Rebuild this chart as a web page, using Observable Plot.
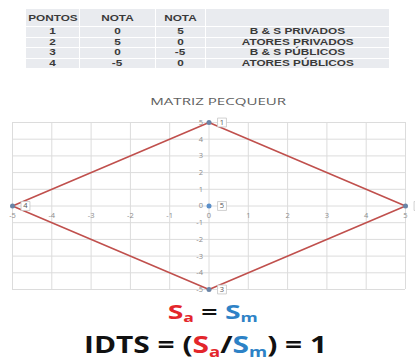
<!DOCTYPE html>
<html>
<head>
<meta charset="utf-8">
<script src="https://cdn.jsdelivr.net/npm/d3@7"></script>
<script src="https://cdn.jsdelivr.net/npm/@observablehq/plot@0.6"></script>
<style>
  html, body { margin: 0; padding: 0; background: #fff; }
  #wrap { position: relative; width: 415px; height: 361px; overflow: hidden; font-family: "Open Sans", Lato, sans-serif; }
  .cell { position: absolute; background: #e9ebef; color: #3a3a3a; font-family: "Liberation Sans", Arial, sans-serif; font-weight: 700; font-size: 9px; text-align: center; white-space: nowrap; }
  .cell span, .fit { display: inline-block; transform-origin: 50% 50%; }
  #title { position: absolute; left: 150px; width: 136px; top: 95px; height: 14px; line-height: 14px; text-align: center; font-size: 9.6px; color: #5f5f5f; white-space: nowrap; }
  #chart { position: absolute; left: 0; top: 88px; }
  .f { position: absolute; text-align: center; font-weight: 700; color: #111; white-space: nowrap; }
  .f sub { font-size: 0.62em; vertical-align: -0.28em; line-height: 0; }
  .red { color: #e3262b; }
  .blue { color: #2d82c6; }
</style>
</head>
<body>
<div id="wrap">
  <div id="tablebox"></div>
  <div id="title"><span class="fit" id="titletxt"></span></div>
  <div id="chart"></div>
  <div class="f" id="f1" style="left:168px;width:90px;top:300px;height:24px;line-height:24px;font-size:20px;"><span class="fit" id="f1t"></span></div>
  <div class="f" id="f2" style="left:84px;width:243px;top:330px;height:28px;line-height:28px;font-size:23px;"><span class="fit" id="f2t"></span></div>
</div>
<script>
// ---- data ----
const tableHeader = ["PONTOS", "NOTA", "NOTA", ""];
const pontos = [1, 2, 3, 4];
const notaX = [0, 5, 0, -5];
const notaY = [5, 0, -5, 0];
const descricao = ["B & S PRIVADOS", "ATORES PRIVADOS", "B & S PÚBLICOS", "ATORES PÚBLICOS"];
const chartTitle = "MATRIZ PECQUEUR";
const pointLabels = ["1", "2", "3", "4", "5"];
const pointX = [0, 5, 0, -5, 0];
const pointY = [5, 0, -5, 0, 0];
const polygonOrder = [0, 1, 2, 3, 0];
const xTicks = [-5, -4, -3, -2, -1, 0, 1, 2, 3, 4, 5];
const yTicks = [-5, -4, -3, -2, -1, 0, 1, 2, 3, 4, 5];

// horizontal stretch helper (the reference text is stretched sideways)
function fitWidth(span, target) {
  const w = span.getBoundingClientRect().width;
  const k = w > 0 ? target / w : 1;
  span.style.transform = `scaleX(${k})`;
  return k;
}

// ---- table ----
const colX = [26, 80, 156, 206, 390];
const rowY = [9, 27, 37.5, 48, 58.5, 69];
const box = document.getElementById("tablebox");
const rows = [tableHeader, ...pontos.map((p, i) => [p, notaX[i], notaY[i], descricao[i]])];
const spans = [];
rows.forEach((r, ri) => {
  r.forEach((v, ci) => {
    const d = document.createElement("div");
    d.className = "cell";
    const h = rowY[ri + 1] - rowY[ri] - 1;
    d.style.left = colX[ci] + "px";
    d.style.width = (colX[ci + 1] - colX[ci] - 1) + "px";
    d.style.top = rowY[ri] + "px";
    d.style.height = h + "px";
    d.style.lineHeight = h + "px";
    if (ri === 0) { d.style.lineHeight = "10px"; d.style.paddingTop = "4px"; d.style.height = (h - 4) + "px"; }
    const s = document.createElement("span");
    s.textContent = v;
    d.appendChild(s);
    box.appendChild(d);
    spans.push({s, v});
  });
});
// common sideways stretch taken from the widest label
const ref = spans.find(o => o.v === "ATORES PÚBLICOS");
const kT = fitWidth(ref.s, 112);
spans.forEach(o => { o.s.style.transform = `scaleX(${kT})`; });

const tt = document.getElementById("titletxt");
tt.textContent = chartTitle;
fitWidth(tt, 136);

// ---- chart ----
const pts = pointLabels.map((l, i) => ({label: l, x: pointX[i], y: pointY[i]}));
const poly = polygonOrder.map(i => pts[i]);
const tickFont = {fontSize: 7.5, fill: "#8c8c8c", fontFamily: "Open Sans, sans-serif"};

const chart = Plot.plot({
  width: 415,
  height: 210,
  marginLeft: 12,
  marginRight: 10,
  marginTop: 34,
  marginBottom: 9,
  x: {domain: [-5, 5], axis: null},
  y: {domain: [-5, 5], axis: null},
  style: {background: "transparent", overflow: "visible"},
  marks: [
    Plot.gridX(xTicks, {stroke: "#dcdcdc", strokeOpacity: 1, strokeWidth: 1}),
    Plot.gridY(yTicks, {stroke: "#dcdcdc", strokeOpacity: 1, strokeWidth: 1}),
    Plot.text(yTicks, {x: 0, y: d => d, text: d => String(d), textAnchor: "end", dx: -6, ...tickFont}),
    Plot.text(xTicks, {x: d => d, y: 0, text: d => String(d), dy: 10, ...tickFont}),
    Plot.line(poly, {x: "x", y: "y", stroke: "#c0504d", strokeWidth: 1.6}),
    Plot.dot(pts.slice(0, 4), {x: "x", y: "y", r: 2.5, fill: "#6a84a6"}),
    Plot.dot(pts.slice(4), {x: "x", y: "y", r: 2.5, fill: "#5b8fc9"}),
    Plot.dot(pts, {x: "x", y: "y", symbol: "square", r: 5, fill: "white", stroke: "#c4c4c4", strokeWidth: 0.8, dx: 13}),
    Plot.text(pts, {x: "x", y: "y", text: "label", dx: 13, fontSize: 7.5, fill: "#555", fontFamily: "Open Sans, sans-serif"})
  ]
});
document.getElementById("chart").appendChild(chart);

// ---- formula ----
const f1 = document.getElementById("f1t");
f1.innerHTML = '<span class="red">S<sub>a</sub></span> = <span class="blue">S<sub>m</sub></span>';
fitWidth(f1, 90);
const f2 = document.getElementById("f2t");
f2.innerHTML = 'IDTS = (<span class="red">S<sub>a</sub></span>/<span class="blue">S<sub>m</sub></span>) = 1';
fitWidth(f2, 243);
</script>
</body>
</html>
